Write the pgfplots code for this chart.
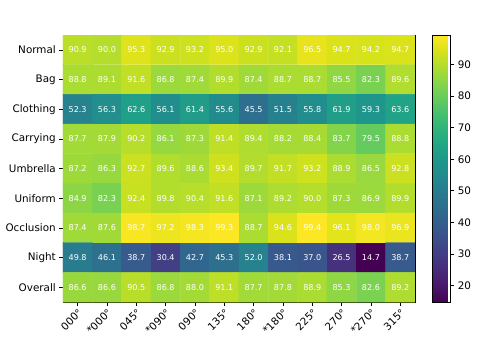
\documentclass[border=0pt]{standalone}
\usepackage{fontspec}
\setmainfont{DejaVu Sans}
\usepackage{pgfplots}
\usepackage{pgfplotstable}
\pgfplotsset{compat=1.18}

% x = angle index, y = condition index (0 = Normal at top), c = accuracy
\pgfplotstableread{
x y c
0 0 90.9
1 0 90.0
2 0 95.3
3 0 92.9
4 0 93.2
5 0 95.0
6 0 92.9
7 0 92.1
8 0 96.5
9 0 94.7
10 0 94.2
11 0 94.7
0 1 88.8
1 1 89.1
2 1 91.6
3 1 86.8
4 1 87.4
5 1 89.9
6 1 87.4
7 1 88.7
8 1 88.7
9 1 85.5
10 1 82.3
11 1 89.6
0 2 52.3
1 2 56.3
2 2 62.6
3 2 56.1
4 2 61.4
5 2 55.6
6 2 45.5
7 2 51.5
8 2 55.8
9 2 61.9
10 2 59.3
11 2 63.6
0 3 87.7
1 3 87.9
2 3 90.2
3 3 86.1
4 3 87.3
5 3 91.4
6 3 89.4
7 3 88.2
8 3 88.4
9 3 83.7
10 3 79.5
11 3 88.8
0 4 87.2
1 4 86.3
2 4 92.7
3 4 89.6
4 4 88.6
5 4 93.4
6 4 89.7
7 4 91.7
8 4 93.2
9 4 88.9
10 4 86.5
11 4 92.8
0 5 84.9
1 5 82.3
2 5 92.4
3 5 89.8
4 5 90.4
5 5 91.6
6 5 87.1
7 5 89.2
8 5 90.0
9 5 87.3
10 5 86.9
11 5 89.9
0 6 87.4
1 6 87.6
2 6 98.7
3 6 97.2
4 6 98.3
5 6 99.3
6 6 88.7
7 6 94.6
8 6 99.4
9 6 96.1
10 6 98.0
11 6 96.9
0 7 49.8
1 7 46.1
2 7 38.7
3 7 30.4
4 7 42.7
5 7 45.3
6 7 52.0
7 7 38.1
8 7 37.0
9 7 26.5
10 7 14.7
11 7 38.7
0 8 86.6
1 8 86.6
2 8 90.5
3 8 86.8
4 8 88.0
5 8 91.1
6 8 87.7
7 8 87.8
8 8 88.9
9 8 85.3
10 8 82.6
11 8 89.2
}\accdata

\begin{document}
\begin{tikzpicture}
\useasboundingbox (0,0) rectangle (460.8pt,346.1pt);
\begin{axis}[
    at={(60.7pt,54.9pt)}, anchor=south west,
    width=339.3pt, height=257.4pt,
    scale only axis,
    enlargelimits=false,
    xmin=-0.5, xmax=11.5,
    ymin=-0.5, ymax=8.5,
    y dir=reverse,
    axis line style={line width=0.6pt},
    tick align=outside,
    xtick pos=bottom, ytick pos=left,
    major tick length=3.4pt,
    tick style={line width=0.6pt, black},
    xtick={0,...,11},
    xticklabels={000°,*000°,045°,*090°,090°,135°,180°,*180°,225°,270°,*270°,315°},
    x tick label style={rotate=45, anchor=north east, inner sep=1.5pt},
    ytick={0,...,8},
    yticklabels={Normal,Bag,Clothing,Carrying,Umbrella,Uniform,Occlusion,Night,Overall},
    tick label style={font=\fontsize{10}{12}\selectfont},
    /pgf/number format/assume math mode=true,
    colormap/viridis,
    point meta min=14.7, point meta max=99.4,
    colorbar,
    colorbar style={
        width=17.4pt,
        at={(parent axis.north east)}, anchor=north west,
        xshift=8.5pt,
        ytick={20,30,...,90},
        ytick pos=right,
        tick align=outside,
        major tick length=3.4pt,
        axis line style={line width=0.6pt},
        yticklabel style={font=\fontsize{10}{12}\selectfont},
        /pgf/number format/assume math mode=true,
    },
    nodes near coords={\pgfmathprintnumber[fixed,fixed zerofill,precision=1]{\pgfplotspointmeta}},
    nodes near coords style={anchor=center, white, font=\fontsize{7.8}{9}\selectfont},
]
\addplot[matrix plot*, mesh/cols=12, point meta=explicit, shader=flat corner]
    table[x=x, y=y, meta=c] {\accdata};
\end{axis}
\end{tikzpicture}
\end{document}
